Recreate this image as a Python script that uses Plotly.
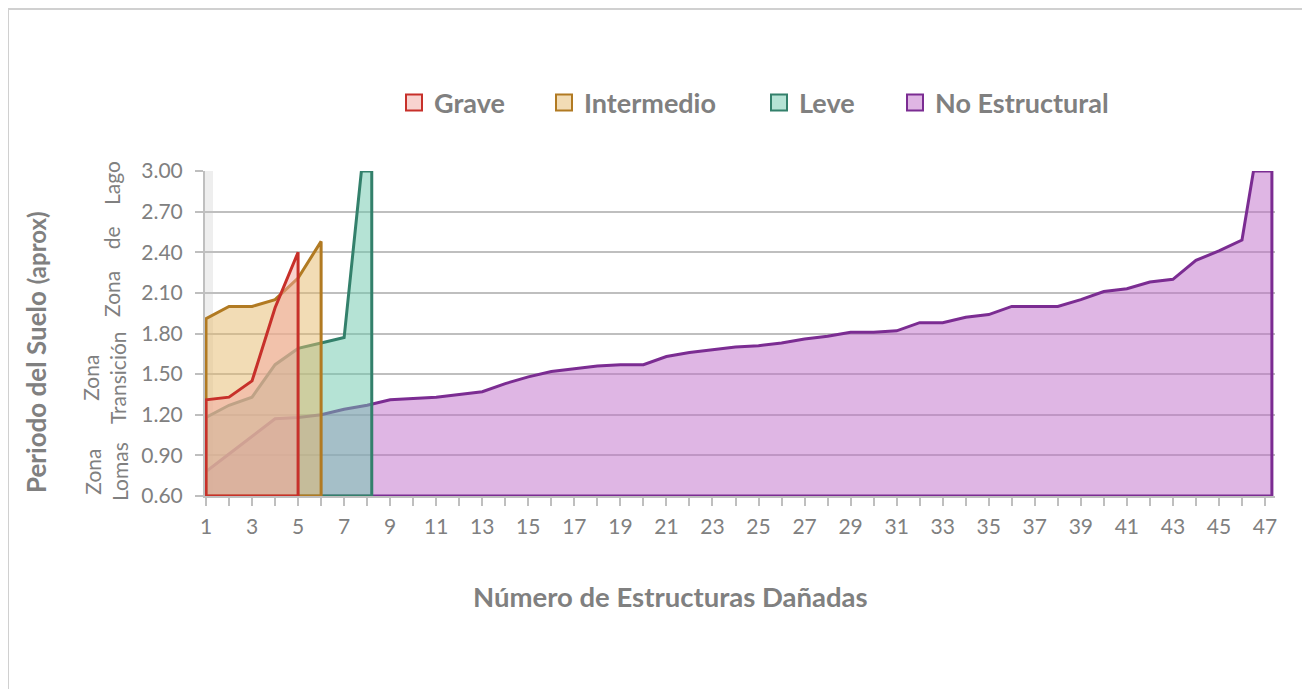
import plotly.graph_objects as go

# ---------------- data ----------------
grave_x = [1, 2, 3, 4, 5]
grave_y = [1.31, 1.33, 1.45, 1.99, 2.40]

intermedio_x = [1, 2, 3, 4, 5, 6]
intermedio_y = [1.91, 2.00, 2.00, 2.05, 2.21, 2.48]

leve_x = [1, 2, 3, 4, 5, 6, 7, 7.75, 8.2]
leve_y = [1.18, 1.27, 1.33, 1.57, 1.69, 1.73, 1.77, 3.00, 3.00]

noestr_x = list(range(1, 47)) + [46.5, 47.3]
noestr_y = [0.78, 0.91, 1.04, 1.17, 1.18, 1.20, 1.24, 1.27, 1.31, 1.32,
            1.33, 1.35, 1.37, 1.43, 1.48, 1.52, 1.54, 1.56, 1.57, 1.57,
            1.63, 1.66, 1.68, 1.70, 1.71, 1.73, 1.76, 1.78, 1.81, 1.81,
            1.82, 1.88, 1.88, 1.92, 1.94, 2.00, 2.00, 2.00, 2.05, 2.11,
            2.13, 2.18, 2.20, 2.34, 2.41, 2.49, 3.00, 3.00]

x_ticks = list(range(1, 48, 2))
y_ticks = [0.60, 0.90, 1.20, 1.50, 1.80, 2.10, 2.40, 2.70, 3.00]
y_base = 0.60

# name, x, y, line colour, fill colour, legend swatch colour, legend box left (px)
series = [
    ("No Estructural", noestr_x, noestr_y, "#7b2c92", "rgba(191,109,201,0.5)", "#dfb6e4", 910),
    ("Leve", leve_x, leve_y, "#33806b", "rgba(107,199,171,0.5)", "#b5e3d5", 774),
    ("Intermedio", intermedio_x, intermedio_y, "#b17a22", "rgba(229,185,107,0.5)", "#f2dcb5", 559),
    ("Grave", grave_x, grave_y, "#c7302a", "rgba(241,167,161,0.5)", "#f8d3d0", 409),
]

# ---------------- layout geometry (reference pixel coords) ----------------
OFF = 8                      # page body margin
W_FIG, H_FIG = 1310 - OFF, 689 - OFF
L, R, T, B = 205, 1275, 171, 496
PW, PH = R - L, B - T
k = (1265 - 206) / 46.0
x_range = [1 - (206 - L) / k, 47 + (R - 1265) / k]

def px(xp):
    return (xp - L) / PW

def py(yp):
    return (B - yp) / PH

GRAY = "#808080"
FONT = "Lato"

fig = go.Figure()

for name, xs, ys, lc, fc, _, _ in series:
    px_ = [xs[0]] + xs + [xs[-1], xs[0]]
    py_ = [y_base] + ys + [y_base, y_base]
    fig.add_trace(go.Scatter(
        x=px_, y=py_, mode="lines", fill="toself", fillcolor=fc,
        line=dict(color=lc, width=3), name=name, showlegend=False,
        hoverinfo="skip"))

legend_layout = {}
for i, (name, xs, ys, lc, fc, sc, bx) in enumerate(reversed(series)):
    lname = "legend" if i == 0 else f"legend{i + 1}"
    fig.add_trace(go.Scatter(
        x=[None], y=[None], mode="markers", name=name, legend=lname,
        marker=dict(symbol="square", size=16, color=sc,
                    line=dict(color=lc, width=2))))
    legend_layout[lname] = dict(
        orientation="h", x=px(bx - 15), y=py(103), xanchor="left", yanchor="middle",
        font=dict(size=27, color=GRAY, family=FONT, weight="bold"),
        bgcolor="rgba(0,0,0,0)", itemwidth=30)

annotations = [
    dict(text="Zona\u00a0\u00a0\u00a0 de\u00a0\u00a0\u00a0 Lago", x=px(111), y=py(239), textangle=-90),
    dict(text="Zona<br>Transición", x=px(104), y=py(378), textangle=-90),
    dict(text="Zona<br>Lomas", x=px(106), y=py(472), textangle=-90),
    dict(text="<b>Periodo del Suelo</b> <b><span style='font-size:24px'>(aprox)</span></b>",
         x=px(36), y=py(352), textangle=-90, font=dict(size=26, color=GRAY, family=FONT)),
    dict(text="<b>Número de Estructuras Dañadas</b>", x=px(670), y=py(596),
         font=dict(size=27.5, color=GRAY, family=FONT)),
]
for a in annotations:
    a.setdefault("font", dict(size=21, color=GRAY, family=FONT))
    a.update(xref="paper", yref="paper", showarrow=False,
             xanchor="center", yanchor="middle")

shapes = [
    # outer chart border (top and left edges visible)
    dict(type="line", xref="paper", yref="paper",
         x0=px(8), x1=px(1330), y0=py(9), y1=py(9),
         line=dict(color="#d0d0d0", width=2), layer="below"),
    dict(type="line", xref="paper", yref="paper",
         x0=px(8), x1=px(8), y0=py(9), y1=py(720),
         line=dict(color="#d0d0d0", width=2), layer="below"),
    # side wall strip
    dict(type="rect", xref="paper", yref="paper",
         x0=px(205), x1=px(213), y0=0, y1=1,
         line=dict(width=0), fillcolor="#eeeeee", layer="below"),
]

fig.update_layout(
    width=W_FIG, height=H_FIG,
    margin=dict(l=L - OFF, r=W_FIG - (R - OFF), t=T - OFF, b=H_FIG - (B - OFF), autoexpand=False),
    paper_bgcolor="white", plot_bgcolor="white",
    font=dict(family=FONT, color=GRAY, size=21),
    showlegend=True,
    xaxis=dict(range=x_range, tickmode="array", tickvals=x_ticks,
               ticktext=[str(v) for v in x_ticks],
               showgrid=False, zeroline=False, showline=True,
               linecolor="#bfbfbf", linewidth=2,
               ticks="outside", ticklen=8, tickwidth=2, tickcolor="#bfbfbf",
               minor=dict(ticks="outside", dtick=1, tick0=0, ticklen=8,
                          tickwidth=2, tickcolor="#bfbfbf"),
               tickfont=dict(size=21, color=GRAY, family=FONT), ticklabelstandoff=3),
    yaxis=dict(range=[0.6, 3.0], tickmode="array", tickvals=y_ticks,
               ticktext=[f"{v:.2f}" for v in y_ticks],
               showgrid=True, gridcolor="#bfbfbf", gridwidth=2,
               zeroline=False, showline=True, linecolor="#bfbfbf", linewidth=2,
               ticks="outside", ticklen=8, tickwidth=2, tickcolor="#bfbfbf",
               tickfont=dict(size=21, color=GRAY, family=FONT), ticklabelstandoff=8),
    annotations=annotations,
    shapes=shapes,
    **legend_layout,
)

fig.write_html("out.html")
